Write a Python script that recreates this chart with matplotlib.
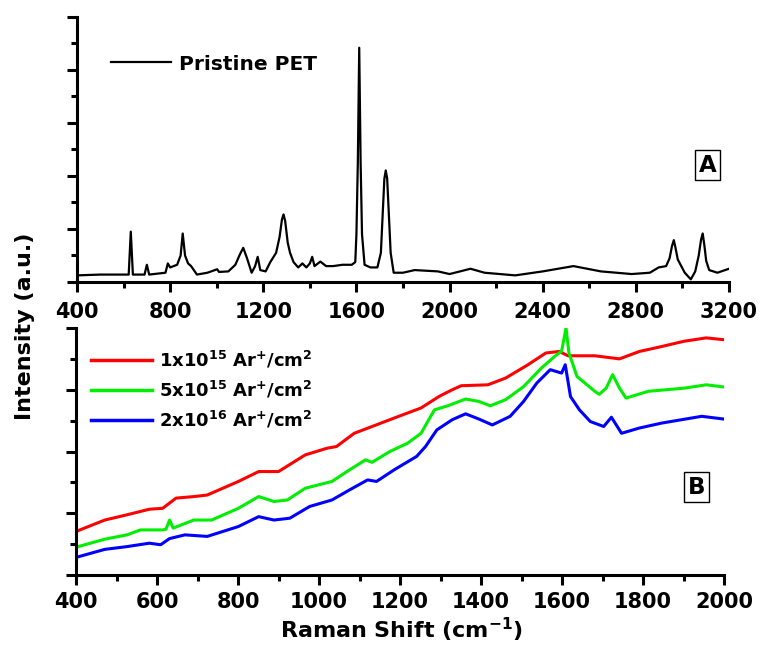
import matplotlib
matplotlib.use("Agg")
import matplotlib.pyplot as plt
from matplotlib.ticker import MultipleLocator
from matplotlib.lines import Line2D

plt.rcParams['font.family'] = ['DejaVu Sans']
plt.rcParams['font.weight'] = 'bold'
plt.rcParams['mathtext.fontset'] = 'dejavusans'
plt.rcParams['mathtext.default'] = 'bf'

# ---- Pristine PET Raman spectrum (panel A) ----
pet_shift = [400, 500, 600, 622, 631, 640, 690, 700, 710, 780, 790, 800, 830, 845, 854,
             864, 877, 890, 915, 960, 1002, 1010, 1050, 1080, 1100, 1114, 1130, 1150,
             1165, 1176, 1187, 1210, 1230, 1255, 1270, 1280, 1287, 1294, 1305, 1315,
             1330, 1350, 1368, 1385, 1400, 1410, 1420, 1445, 1470, 1500, 1540, 1580,
             1595, 1600, 1606, 1612, 1618, 1624, 1635, 1660, 1690, 1705, 1713, 1720,
             1726, 1732, 1739, 1747, 1760, 1800, 1850, 1950, 2000, 2090, 2150, 2282,
             2400, 2532, 2650, 2782, 2860, 2898, 2930, 2945, 2955, 2963, 2970, 2980,
             2995, 3010, 3036, 3055, 3070, 3080, 3087, 3094, 3102, 3115, 3150, 3200]
pet_intensity = [0.25, 0.28, 0.28, 0.28, 1.90, 0.28, 0.28, 0.65, 0.28, 0.35, 0.70, 0.55,
                 0.65, 1.00, 1.83, 1.00, 0.70, 0.60, 0.28, 0.35, 0.48, 0.38, 0.40, 0.65,
                 1.05, 1.29, 0.90, 0.35, 0.60, 0.95, 0.45, 0.40, 0.75, 1.10, 1.70, 2.35,
                 2.55, 2.30, 1.48, 1.10, 0.75, 0.55, 0.70, 0.55, 0.70, 0.95, 0.60, 0.77,
                 0.60, 0.60, 0.65, 0.65, 0.75, 1.80, 4.50, 8.84, 4.50, 1.80, 0.65, 0.55,
                 0.55, 1.10, 2.60, 3.90, 4.21, 3.90, 2.60, 1.10, 0.35, 0.35, 0.45, 0.40,
                 0.30, 0.50, 0.35, 0.25, 0.40, 0.60, 0.40, 0.30, 0.35, 0.55, 0.60, 0.90,
                 1.35, 1.58, 1.30, 0.85, 0.60, 0.35, 0.10, 0.40, 1.00, 1.60, 1.83, 1.40,
                 0.80, 0.45, 0.35, 0.50]

# ---- Ar+ irradiated PET spectra (panel B) ----
shift_1e15 = [400, 471, 526, 581, 614, 647, 691, 724, 801, 851, 878, 900, 966, 1021, 1043,
              1087, 1131, 1197, 1252, 1296, 1329, 1351, 1417, 1461, 1516, 1560, 1593,
              1615, 1681, 1742, 1791, 1846, 1901, 1956, 2000]
int_1e15 = [1.41, 1.78, 1.95, 2.13, 2.16, 2.49, 2.54, 2.59, 3.03, 3.35, 3.35, 3.35, 3.89,
            4.11, 4.16, 4.59, 4.81, 5.14, 5.41, 5.78, 6.00, 6.13, 6.16, 6.38, 6.81, 7.19,
            7.24, 7.10, 7.10, 7.00, 7.24, 7.40, 7.57, 7.68, 7.62]

shift_5e15 = [400, 471, 526, 559, 614, 622, 631, 640, 691, 735, 801, 851, 889, 922, 966,
              1032, 1076, 1115, 1131, 1175, 1219, 1252, 1285, 1318, 1362, 1395, 1423,
              1461, 1505, 1549, 1582, 1599, 1610, 1617, 1637, 1681, 1692, 1709, 1725,
              1742, 1758, 1813, 1901, 1956, 2000]
int_5e15 = [0.90, 1.16, 1.30, 1.46, 1.46, 1.48, 1.78, 1.52, 1.78, 1.78, 2.16, 2.54, 2.38,
            2.43, 2.81, 3.03, 3.41, 3.73, 3.65, 4.00, 4.27, 4.59, 5.35, 5.48, 5.70, 5.62,
            5.48, 5.68, 6.10, 6.70, 7.08, 7.25, 8.00, 7.20, 6.43, 5.95, 5.85, 6.05, 6.49,
            6.05, 5.73, 5.95, 6.05, 6.16, 6.09]

shift_2e16 = [400, 471, 526, 581, 609, 631, 669, 724, 801, 851, 889, 928, 977, 1032, 1076,
              1120, 1142, 1186, 1241, 1263, 1291, 1329, 1362, 1395, 1428, 1472, 1505,
              1538, 1571, 1599, 1608, 1621, 1643, 1670, 1703, 1722, 1747, 1791, 1846,
              1945, 2000]
int_2e16 = [0.57, 0.83, 0.92, 1.03, 0.98, 1.18, 1.30, 1.25, 1.57, 1.89, 1.78, 1.84, 2.22,
            2.43, 2.76, 3.08, 3.03, 3.41, 3.84, 4.16, 4.70, 5.03, 5.22, 5.05, 4.86, 5.14,
            5.62, 6.22, 6.65, 6.54, 6.81, 5.78, 5.35, 4.97, 4.81, 5.11, 4.59, 4.76, 4.92,
            5.14, 5.05]

dose_labels = [r'1x10$^{15}$ Ar$^{+}$/cm$^{2}$',
               r'5x10$^{15}$ Ar$^{+}$/cm$^{2}$',
               r'2x10$^{16}$ Ar$^{+}$/cm$^{2}$']
dose_colors = ['#ff0000', '#00ee00', '#0000ff']

W, H = 760, 646
fig = plt.figure(figsize=(W / 100, H / 100), dpi=100)
ax_a = fig.add_axes([77 / W, 1 - 282 / H, (729 - 77) / W, (282 - 17) / H])
ax_b = fig.add_axes([76 / W, 1 - 575 / H, (724 - 76) / W, (575 - 328) / H])


def style_axis(ax, xmajor, xminor, ymajor, yminor, pad):
    for side in ('top', 'right'):
        ax.spines[side].set_visible(False)
    for side in ('left', 'bottom'):
        ax.spines[side].set_linewidth(2.2)
    ax.xaxis.set_major_locator(MultipleLocator(xmajor))
    ax.xaxis.set_minor_locator(MultipleLocator(xminor))
    ax.yaxis.set_major_locator(MultipleLocator(ymajor))
    ax.yaxis.set_minor_locator(MultipleLocator(yminor))
    ax.tick_params(which='major', direction='out', length=7.5, width=2.2,
                   labelsize=15, pad=pad)
    ax.tick_params(which='minor', direction='out', length=4, width=2.2)
    ax.tick_params(axis='y', which='both', labelleft=False)
    for lab in ax.get_xticklabels():
        lab.set_fontweight('bold')


# Panel A
ax_a.plot(pet_shift, pet_intensity, color='black', lw=1.6, label='Pristine PET')
ax_a.set_xlim(400, 3200)
ax_a.set_ylim(0, 10)
style_axis(ax_a, 400, 200, 2, 1, pad=7)
ax_a.legend(loc='center left', bbox_to_anchor=(111 / W, 1 - 64 / H),
            bbox_transform=fig.transFigure, frameon=False, fontsize=14.5,
            handlelength=3.0, handletextpad=0.4, borderpad=0, borderaxespad=0)
fig.text(707.5 / W, 1 - 165 / H, 'A', ha='center', va='center', fontsize=16.5,
         fontweight='bold',
         bbox=dict(boxstyle='square,pad=0.15', fc='white', ec='black', lw=1))

# Panel B
series = [(shift_1e15, int_1e15), (shift_5e15, int_5e15), (shift_2e16, int_2e16)]
for (xs, ys), col, lab in zip(series, dose_colors, dose_labels):
    ax_b.plot(xs, ys, color=col, lw=2.2, label=lab)
ax_b.set_xlim(400, 2000)
ax_b.set_ylim(0, 8)
style_axis(ax_b, 200, 100, 2, 1, pad=5)
handles = [Line2D([], [], color=c, lw=2.5) for c in dose_colors]
ax_b.legend(handles, dose_labels, loc='center left',
            bbox_to_anchor=(91 / W, 1 - 390 / H), bbox_transform=fig.transFigure,
            frameon=False, fontsize=13, handlelength=3.4, handletextpad=0.35,
            labelspacing=0.5, borderpad=0, borderaxespad=0)
fig.text(696.5 / W, 1 - 487 / H, 'B', ha='center', va='center', fontsize=16.5,
         fontweight='bold',
         bbox=dict(boxstyle='square,pad=0.15', fc='white', ec='black', lw=1))

# Shared axis titles
fig.text(25 / W, 1 - 326 / H, 'Intensity (a.u.)', rotation=90, ha='center',
         va='center', fontsize=16, fontweight='bold')
fig.text(401 / W, 1 - 638 / H, r'Raman Shift (cm$^{-1}$)', ha='center',
         va='baseline', fontsize=16, fontweight='bold')

fig.savefig('out.png', dpi=100)
